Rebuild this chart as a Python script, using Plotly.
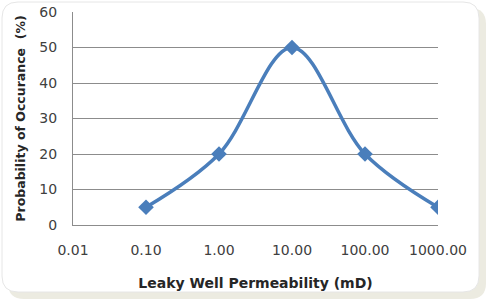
import plotly.graph_objects as go

permeability = [0.1, 1, 10, 100, 1000]
probability = [5, 20, 50, 20, 5]
x_tickvals = [0.01, 0.1, 1, 10, 100, 1000]
x_ticktext = ["0.01", "0.10", "1.00", "10.00", "100.00", "1000.00"]

W, H = 486, 299
ML, MR, MT, MB = 73, 48, 12, 74
PW, PH = W - ML - MR, H - MT - MB


def px(x):
    return (x - ML) / PW


def py(y):
    return (H - MB - y) / PH


def rounded(x0, y0, x1, y1, r):
    return (f"M {px(x0 + r)} {py(y0)} L {px(x1 - r)} {py(y0)} "
            f"Q {px(x1)} {py(y0)} {px(x1)} {py(y0 + r)} "
            f"L {px(x1)} {py(y1 - r)} Q {px(x1)} {py(y1)} {px(x1 - r)} {py(y1)} "
            f"L {px(x0 + r)} {py(y1)} Q {px(x0)} {py(y1)} {px(x0)} {py(y1 - r)} "
            f"L {px(x0)} {py(y0 + r)} Q {px(x0)} {py(y0)} {px(x0 + r)} {py(y0)} Z")


fig = go.Figure()
fig.add_trace(go.Scatter(
    x=permeability, y=probability, mode="lines+markers",
    line=dict(color="#4A7EBB", width=3.5, shape="spline", smoothing=1.0),
    marker=dict(symbol="diamond", size=12, color="#4A7EBB"),
    showlegend=False, hoverinfo="skip",
))

fig.add_shape(type="path", xref="paper", yref="paper", layer="below",
              path=rounded(8, 8, 486, 299, 16), fillcolor="#ECEBE1", line=dict(width=0))
fig.add_shape(type="path", xref="paper", yref="paper", layer="below",
              path=rounded(2, 2, 479, 292, 16), fillcolor="white",
              line=dict(width=1, color="#E6E6E6"))

fig.update_layout(
    width=W, height=H,
    margin=dict(l=ML, r=MR, t=MT, b=MB, autoexpand=False),
    paper_bgcolor="white", plot_bgcolor="rgba(0,0,0,0)",
    font=dict(family="DejaVu Sans", color="#404040", size=14),
    xaxis=dict(
        type="log", range=[-2, 3], tickvals=x_tickvals, ticktext=x_ticktext,
        showgrid=False, showline=True, linecolor="#8C8C8C", linewidth=1,
        ticks="", ticklabelstandoff=12, zeroline=False, automargin=False,
        title=dict(text="<b>Leaky Well Permeability (mD)</b>", font=dict(size=14, color="#262626"), standoff=21),
    ),
    yaxis=dict(
        range=[0, 60], dtick=10, showgrid=True, gridcolor="#8C8C8C", gridwidth=1,
        showline=True, linecolor="#8C8C8C", linewidth=1, ticks="", ticklabelstandoff=12,
        zeroline=False, automargin=False,
        title=dict(text="<b>Probability of Occurance  (%)</b>", font=dict(size=12.5, color="#262626"), standoff=10),
    ),
)

fig.write_html("out.html", config={"displayModeBar": False},
               post_script="document.body.style.margin='0';")
